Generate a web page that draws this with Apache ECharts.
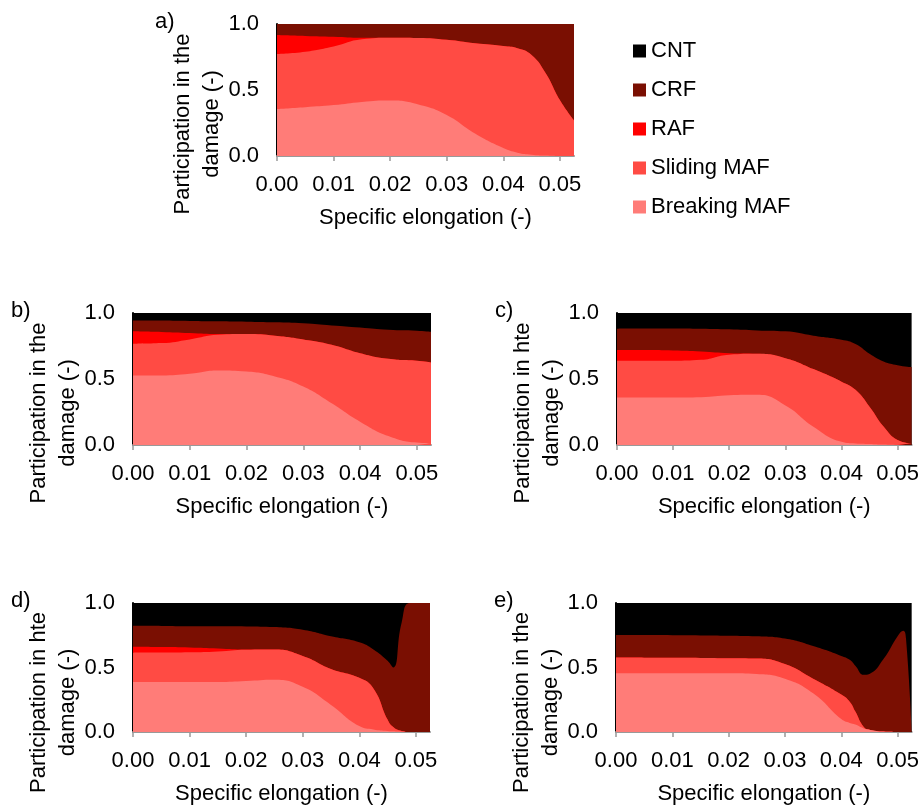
<!DOCTYPE html>
<html>
<head>
<meta charset="utf-8">
<script src="https://cdn.jsdelivr.net/npm/echarts@6/dist/echarts.min.js"></script>
<style>
html,body{margin:0;padding:0;background:#fff;}
#chart{width:922px;height:806px;}
</style>
</head>
<body>
<div id="chart"></div>
<script>
// ---------- DATA ----------
const seriesNames = ['Breaking MAF', 'Sliding MAF', 'RAF', 'CRF', 'CNT']; // bottom -> top
const legendOrder = ['CNT', 'CRF', 'RAF', 'Sliding MAF', 'Breaking MAF'];
const xTickValues = [0, 0.01, 0.02, 0.03, 0.04, 0.05];
const panelLabels = ['a)', 'b)', 'c)', 'd)', 'e)'];
const yTitleLine1 = ['Participation in the', 'Participation in the', 'Participation in hte', 'Participation in hte', 'Participation in the'];
const yTitleLine2 = 'damage (-)';
const xTitle = 'Specific elongation (-)';

// Panel a
const xA   = [0, 0.005, 0.01, 0.015, 0.02, 0.025, 0.03, 0.035, 0.04, 0.0425, 0.045, 0.0475, 0.05, 0.0525];
const brkA = [0.356, 0.37, 0.386, 0.41, 0.42, 0.39, 0.31, 0.17, 0.06, 0.025, 0.01, 0.003, 0, 0];
const sldA = [0.417, 0.42, 0.444, 0.474, 0.476, 0.504, 0.57, 0.684, 0.773, 0.791, 0.755, 0.623, 0.424, 0.27];
const rafA = [0.144, 0.12, 0.074, 0.012, 0, 0, 0, 0, 0, 0, 0, 0, 0, 0];
const crfA = [0.083, 0.09, 0.096, 0.104, 0.104, 0.106, 0.12, 0.146, 0.167, 0.184, 0.235, 0.374, 0.576, 0.73];
const cntA = [0, 0, 0, 0, 0, 0, 0, 0, 0, 0, 0, 0, 0, 0];

// Panel b
const xB   = [0, 0.005, 0.01, 0.015, 0.02, 0.025, 0.03, 0.035, 0.04, 0.045, 0.05, 0.0525];
const brkB = [0.527, 0.527, 0.54, 0.565, 0.557, 0.519, 0.443, 0.316, 0.177, 0.068, 0.018, 0.013];
const sldB = [0.24, 0.245, 0.26, 0.27, 0.283, 0.309, 0.357, 0.444, 0.519, 0.585, 0.62, 0.612];
const rafB = [0.094, 0.084, 0.048, 0.005, 0, 0, 0, 0, 0, 0, 0, 0];
const crfB = [0.083, 0.087, 0.092, 0.097, 0.094, 0.101, 0.122, 0.146, 0.194, 0.22, 0.228, 0.233];
const cntB = [0.056, 0.057, 0.06, 0.063, 0.066, 0.071, 0.078, 0.094, 0.11, 0.127, 0.134, 0.142];

// Panel c
const xC   = [0, 0.005, 0.01, 0.015, 0.02, 0.025, 0.03, 0.035, 0.04, 0.0425, 0.045, 0.0475, 0.05, 0.0525];
const brkC = [0.36, 0.36, 0.36, 0.362, 0.377, 0.38, 0.30, 0.139, 0.025, 0.012, 0.008, 0.003, 0, 0];
const sldC = [0.278, 0.278, 0.278, 0.283, 0.307, 0.311, 0.358, 0.436, 0.455, 0.406, 0.282, 0.137, 0.038, 0.013];
const rafC = [0.081, 0.081, 0.078, 0.064, 0.012, 0, 0, 0, 0, 0, 0, 0, 0, 0];
const crfC = [0.162, 0.163, 0.167, 0.172, 0.18, 0.177, 0.203, 0.253, 0.317, 0.347, 0.401, 0.493, 0.567, 0.577];
const cntC = [0.119, 0.118, 0.117, 0.119, 0.124, 0.132, 0.139, 0.172, 0.203, 0.235, 0.309, 0.367, 0.395, 0.41];

// Panel d
const xD   = [0, 0.005, 0.01, 0.015, 0.02, 0.025, 0.03, 0.035, 0.04, 0.0425, 0.045, 0.046, 0.0475, 0.049, 0.0525];
const brkD = [0.387, 0.387, 0.387, 0.387, 0.395, 0.405, 0.35, 0.21, 0.046, 0.02, 0.008, 0.005, 0.002, 0, 0];
const sldD = [0.228, 0.229, 0.231, 0.238, 0.243, 0.235, 0.24, 0.279, 0.374, 0.317, 0.088, 0.033, 0.006, 0, 0];
const rafD = [0.046, 0.043, 0.038, 0.023, 0.002, 0, 0, 0, 0, 0, 0, 0, 0, 0, 0];
const crfD = [0.162, 0.163, 0.164, 0.171, 0.178, 0.173, 0.202, 0.253, 0.276, 0.303, 0.456, 0.462, 0.842, 1, 1];
const cntD = [0.177, 0.178, 0.18, 0.181, 0.182, 0.187, 0.208, 0.258, 0.304, 0.36, 0.448, 0.50, 0.15, 0, 0];

// Panel e
const xE   = [0, 0.005, 0.01, 0.015, 0.02, 0.025, 0.03, 0.035, 0.04, 0.0415, 0.0425, 0.044, 0.045, 0.0475, 0.05, 0.051, 0.0515, 0.0525];
const brkE = [0.456, 0.456, 0.456, 0.456, 0.456, 0.45, 0.413, 0.30, 0.10, 0.07, 0.058, 0.028, 0.018, 0.003, 0, 0, 0, 0];
const sldE = [0.121, 0.12, 0.119, 0.118, 0.116, 0.12, 0.114, 0.113, 0.19, 0.165, 0.10, 0.01, 0, 0, 0, 0, 0, 0];
const rafE = [0, 0, 0, 0, 0, 0, 0, 0, 0, 0, 0, 0, 0, 0, 0, 0, 0, 0];
const crfE = [0.175, 0.175, 0.175, 0.175, 0.175, 0.172, 0.197, 0.253, 0.30, 0.325, 0.356, 0.405, 0.432, 0.562, 0.742, 0.785, 0.72, 0];
const cntE = [0.248, 0.249, 0.25, 0.251, 0.253, 0.258, 0.276, 0.334, 0.41, 0.44, 0.486, 0.557, 0.55, 0.435, 0.258, 0.215, 0.28, 1];

// ---------- STYLE / LAYOUT ----------
const colors = {
  'Breaking MAF': '#FF7C78',
  'Sliding MAF': '#FF4B44',
  'RAF': '#FF0000',
  'CRF': '#7A0F02',
  'CNT': '#000000'
};
const FONT = '"Liberation Sans", Arial, sans-serif';
const FS = 22;

const panels = [
  { x: xA, vals: [brkA, sldA, rafA, crfA, cntA], grid: { left: 277, top: 24, width: 297, height: 132 } },
  { x: xB, vals: [brkB, sldB, rafB, crfB, cntB], grid: { left: 133, top: 313, width: 298, height: 132 } },
  { x: xC, vals: [brkC, sldC, rafC, crfC, cntC], grid: { left: 617, top: 313, width: 296, height: 132 } },
  { x: xD, vals: [brkD, sldD, rafD, crfD, cntD], grid: { left: 133, top: 603, width: 297, height: 131 } },
  { x: xE, vals: [brkE, sldE, rafE, crfE, cntE], grid: { left: 616, top: 603, width: 296, height: 131 } }
];

const grids = [], xAxes = [], yAxes = [], series = [], graphics = [];

panels.forEach((p, i) => {
  grids.push(Object.assign({ containLabel: false }, p.grid));
  xAxes.push({
    type: 'value', gridIndex: i, min: 0, max: 0.0525, interval: 0.01,
    axisLine: { show: true, lineStyle: { color: '#999999', width: 2 } },
    axisTick: { show: true, length: 5, lineStyle: { color: '#999999', width: 1.5 }, customValues: xTickValues },
    axisLabel: { show: true, fontSize: FS, fontFamily: FONT, color: '#000', margin: 18,
      customValues: xTickValues,
      formatter: v => v.toFixed(2) },
    splitLine: { show: false },
    name: xTitle, nameLocation: 'middle', nameGap: 51,
    nameTextStyle: { fontSize: FS, fontFamily: FONT, color: '#000' }
  });
  yAxes.push({
    type: 'value', gridIndex: i, min: 0, max: 1, interval: 0.5,
    axisLine: { show: true, lineStyle: { color: '#000', width: 2 } },
    axisTick: { show: false },
    axisLabel: { fontSize: FS, fontFamily: FONT, color: '#000', margin: 18, formatter: v => v.toFixed(1) },
    splitLine: { show: false }
  });
  // Cumulative (stacked) boundaries computed from the component arrays;
  // drawn top layer first so each lower layer paints over the one above it.
  const cum = seriesNames.map(() => []);
  p.x.forEach((xv, k) => {
    let s = 0;
    seriesNames.forEach((n, j) => { s += p.vals[j][k]; cum[j].push(Math.round(s * 1000) / 1000); });
  });
  for (let j = seriesNames.length - 1; j >= 0; j--) {
    const name = seriesNames[j];
    series.push({
      name: name, type: 'line', xAxisIndex: i, yAxisIndex: i,
      smooth: 0.5, showSymbol: false, symbol: 'none',
      lineStyle: { width: 0 },
      itemStyle: { color: colors[name] },
      areaStyle: { color: colors[name], opacity: 1, origin: 'start' },
      emphasis: { disabled: true },
      data: p.x.map((xv, k) => [xv, cum[j][k]])
    });
  }
  const g = p.grid;
  const cy = g.top + g.height / 2 + 34;
  graphics.push({
    type: 'text', x: g.left - 94, y: cy, rotation: Math.PI / 2,
    style: { text: yTitleLine1[i], fontSize: FS, fontFamily: FONT, fill: '#000',
      align: 'center', verticalAlign: 'middle', textAlign: 'center', textVerticalAlign: 'middle' }
  });
  graphics.push({
    type: 'text', x: g.left - 65, y: cy, rotation: Math.PI / 2,
    style: { text: yTitleLine2, fontSize: FS, fontFamily: FONT, fill: '#000',
      align: 'center', verticalAlign: 'middle', textAlign: 'center', textVerticalAlign: 'middle' }
  });
  graphics.push({
    type: 'text', x: g.left - 122, y: g.top - 13,
    style: { text: panelLabels[i], fontSize: FS, fontFamily: FONT, fill: '#000',
      align: 'left', verticalAlign: 'top', textAlign: 'left', textVerticalAlign: 'top' }
  });
});

const chart = echarts.init(document.getElementById('chart'), null, { renderer: 'canvas' });
chart.setOption({
  backgroundColor: '#fff',
  animation: false,
  textStyle: { fontFamily: FONT },
  grid: grids,
  xAxis: xAxes,
  yAxis: yAxes,
  legend: {
    data: legendOrder, orient: 'vertical', left: 633, top: 40, padding: 0,
    icon: 'rect', itemWidth: 13, itemHeight: 13, itemGap: 17,
    selectedMode: false,
    textStyle: { fontSize: FS, fontFamily: FONT, color: '#000', lineHeight: 22 }
  },
  graphic: graphics,
  series: series
});
</script>
</body>
</html>
